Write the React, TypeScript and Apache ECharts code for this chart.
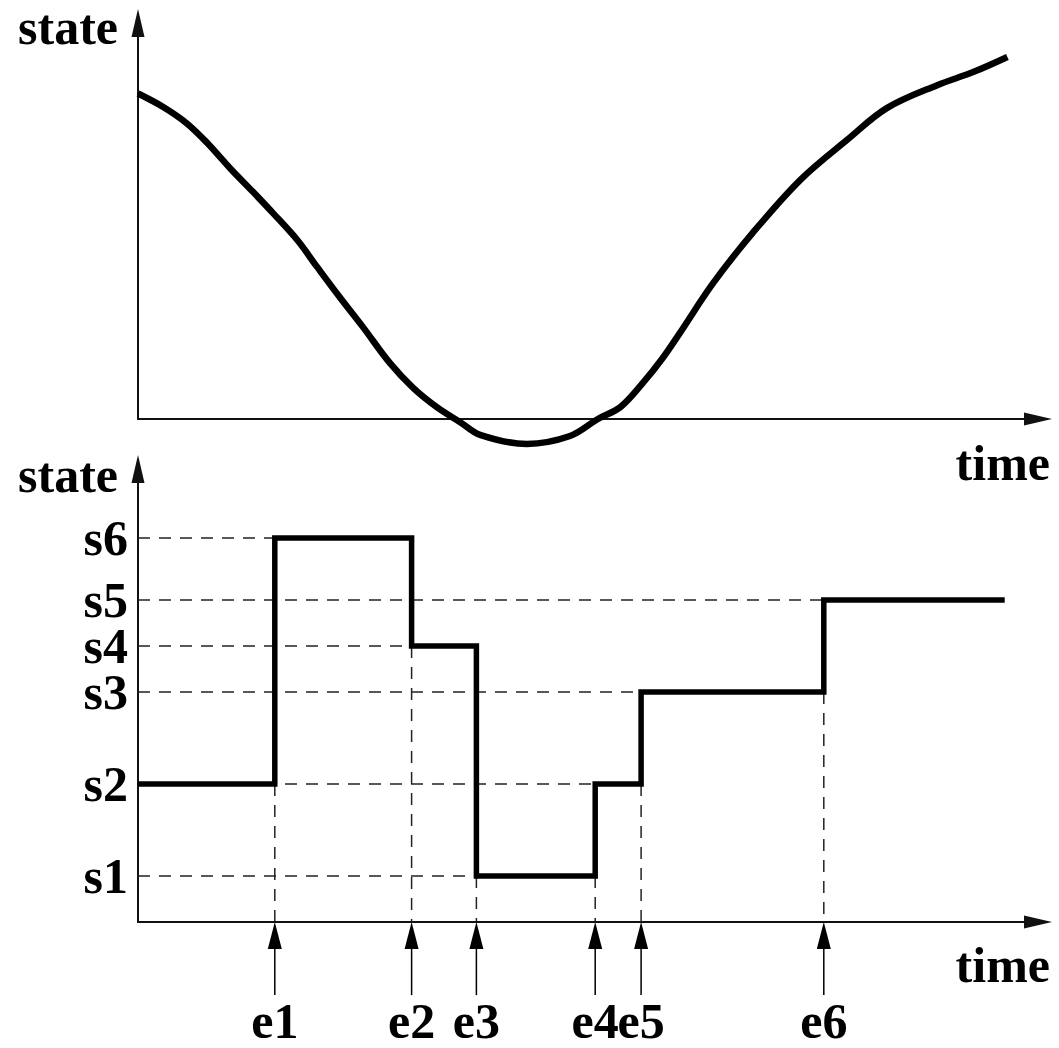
import React, { useEffect, useRef } from "react";
import * as echarts from "echarts";

// ---- top panel: continuous state over time ----
const curveTime = [0, 0.28, 0.54, 0.77, 1.02, 1.28, 1.5, 1.77, 1.99, 2.24, 2.5, 2.8, 3.06, 3.32, 3.58, 3.8, 4.32, 4.8, 5.11, 5.36, 5.61, 5.83, 6.02, 6.39, 6.83, 7.36, 7.88, 8.32, 8.88, 9.28, 9.66];
const curveState = [8.22, 7.88, 7.47, 6.97, 6.34, 5.73, 5.2, 4.52, 3.84, 3.08, 2.32, 1.41, 0.78, 0.3, -0.08, -0.4, -0.63, -0.43, 0.0, 0.3, 0.91, 1.54, 2.17, 3.43, 4.7, 6.04, 7.05, 7.85, 8.43, 8.76, 9.14];

// ---- bottom panel: discrete states and events ----
const stateNames = ["s1", "s2", "s3", "s4", "s5", "s6"];
const stateLevels = [1, 3, 5, 6, 7, 8.35];
const eventNames = ["e1", "e2", "e3", "e4", "e5", "e6"];
const eventTimes = [1.52, 3.04, 3.76, 5.08, 5.59, 7.62];
const initialState = "s2";
const stateAfterEvent = ["s6", "s4", "s1", "s2", "s3", "s5"];
const endTime = 9.63;
const eventArrowFrom = -1.59; // state units below the time axis

const axisTitles = [
  { text: "state", panel: 0, where: "y" },
  { text: "time", panel: 0, where: "x" },
  { text: "state", panel: 1, where: "y" },
  { text: "time", panel: 1, where: "x" },
];

const FONT_FAMILY = "'Liberation Serif', 'Times New Roman', serif";
const FONT = "bold 50px " + FONT_FAMILY;

const lvl = (name: string) => stateLevels[stateNames.indexOf(name)];
const findIdx = (arr: number[], v: number) => arr.findIndex((a) => Math.abs(a - v) < 1e-6);

export default function App() {
  const ref = useRef<HTMLDivElement>(null);

  useEffect(() => {
    if (!ref.current) return;
    const chart = echarts.init(ref.current, null, { renderer: "svg" });

    const stepData: number[][] = [[0, lvl(initialState)]];
    eventTimes.forEach((t, i) => stepData.push([t, lvl(stateAfterEvent[i])]));
    stepData.push([endTime, lvl(stateAfterEvent[stateAfterEvent.length - 1])]);

    const dashStyle = { color: "#222", width: 1.5, type: [12, 9] as any };
    const guideSeries: any[] = [];
    eventTimes.forEach((t, i) => {
      const after = lvl(stateAfterEvent[i]);
      const before = i === 0 ? lvl(initialState) : lvl(stateAfterEvent[i - 1]);
      // horizontal guide: from state axis to the event where this level is entered
      guideSeries.push({
        type: "line", xAxisIndex: 1, yAxisIndex: 1, symbol: "none", silent: true, z: 1,
        data: [[0, after], [t, after]], lineStyle: dashStyle,
      });
      // vertical guide: from the lower level down to the time axis
      guideSeries.push({
        type: "line", xAxisIndex: 1, yAxisIndex: 1, symbol: "none", silent: true, z: 1,
        data: [[t, Math.min(before, after)], [t, 0]], lineStyle: dashStyle,
      });
    });

    const axisLine = {
      show: true,
      onZero: false,
      symbol: ["none", "triangle"],
      symbolSize: [13, 28],
      lineStyle: { color: "#111", width: 2 },
    };
    const labelStyle = {
      fontFamily: FONT_FAMILY,
      fontWeight: "bold",
      fontSize: 50,
      color: "#000",
      lineHeight: 50,
    };

    const titlePos: Record<string, [number, number]> = {
      "0y": [118, 27],
      "0x": [1050, 463],
      "1y": [118, 475],
      "1x": [1050, 965],
    };

    chart.setOption({
      animation: false,
      backgroundColor: "#fff",
      grid: [
        { left: 138, right: 21, top: 23, bottom: 629 },
        { left: 138, right: 21, top: 469, bottom: 126 },
      ],
      xAxis: [
        {
          type: "value", gridIndex: 0, min: 0, max: 10,
          axisLine, axisTick: { show: false }, axisLabel: { show: false }, splitLine: { show: false },
        },
        {
          type: "value", gridIndex: 1, min: 0, max: 10,
          axisLine, axisTick: { show: false }, splitLine: { show: false },
          axisLabel: {
            show: true,
            customValues: eventTimes,
            margin: 74,
            formatter: (v: number) => eventNames[findIdx(eventTimes, v)] ?? "",
            ...labelStyle,
          },
        },
      ],
      yAxis: [
        {
          type: "value", gridIndex: 0, min: 0, max: 10,
          axisLine, axisTick: { show: false }, axisLabel: { show: false }, splitLine: { show: false },
        },
        {
          type: "value", gridIndex: 1, min: 0, max: 9.85,
          axisLine, axisTick: { show: false }, splitLine: { show: false },
          axisLabel: {
            show: true,
            customValues: stateLevels,
            margin: 10,
            formatter: (v: number) => stateNames[findIdx(stateLevels, v)] ?? "",
            ...labelStyle,
          },
        },
      ],
      graphic: axisTitles.map((a) => {
        const p = titlePos[a.panel + a.where];
        return {
          type: "text",
          x: p[0],
          y: p[1],
          silent: true,
          style: {
            text: a.text,
            font: FONT,
            fill: "#000",
            align: "right",
            textAlign: "right",
            verticalAlign: "middle",
            textVerticalAlign: "middle",
          },
        };
      }),
      series: [
        {
          type: "line", xAxisIndex: 0, yAxisIndex: 0,
          data: curveTime.map((t, i) => [t, curveState[i]]),
          smooth: 0.35, symbol: "none", showSymbol: false, clip: false, z: 3,
          lineStyle: { color: "#000", width: 6.5, cap: "butt" },
        },
        ...guideSeries,
        {
          type: "line", xAxisIndex: 1, yAxisIndex: 1, step: "end",
          data: stepData, symbol: "none", showSymbol: false, z: 3,
          lineStyle: { color: "#000", width: 5.5, cap: "butt", join: "miter" },
        },
        {
          type: "custom", xAxisIndex: 1, yAxisIndex: 1, clip: false, silent: true, z: 4,
          data: eventTimes.map((t) => [t]),
          renderItem: (_params: any, api: any) => {
            const t = api.value(0);
            const tip = api.coord([t, 0]);
            const tail = api.coord([t, eventArrowFrom]);
            const headLen = 27;
            const headHalf = 7;
            return {
              type: "group",
              children: [
                {
                  type: "line",
                  shape: { x1: tip[0], y1: tip[1] + headLen - 2, x2: tail[0], y2: tail[1] },
                  style: { stroke: "#000", lineWidth: 1.5 },
                },
                {
                  type: "polygon",
                  shape: { points: [[tip[0], tip[1]], [tip[0] - headHalf, tip[1] + headLen], [tip[0] + headHalf, tip[1] + headLen]] },
                  style: { fill: "#000" },
                },
              ],
            };
          },
        },
      ],
    });

    return () => chart.dispose();
  }, []);

  return (
    <div
      ref={ref}
      style={{ position: "absolute", left: 0, top: 0, width: 1059, height: 1048 }}
    />
  );
}
